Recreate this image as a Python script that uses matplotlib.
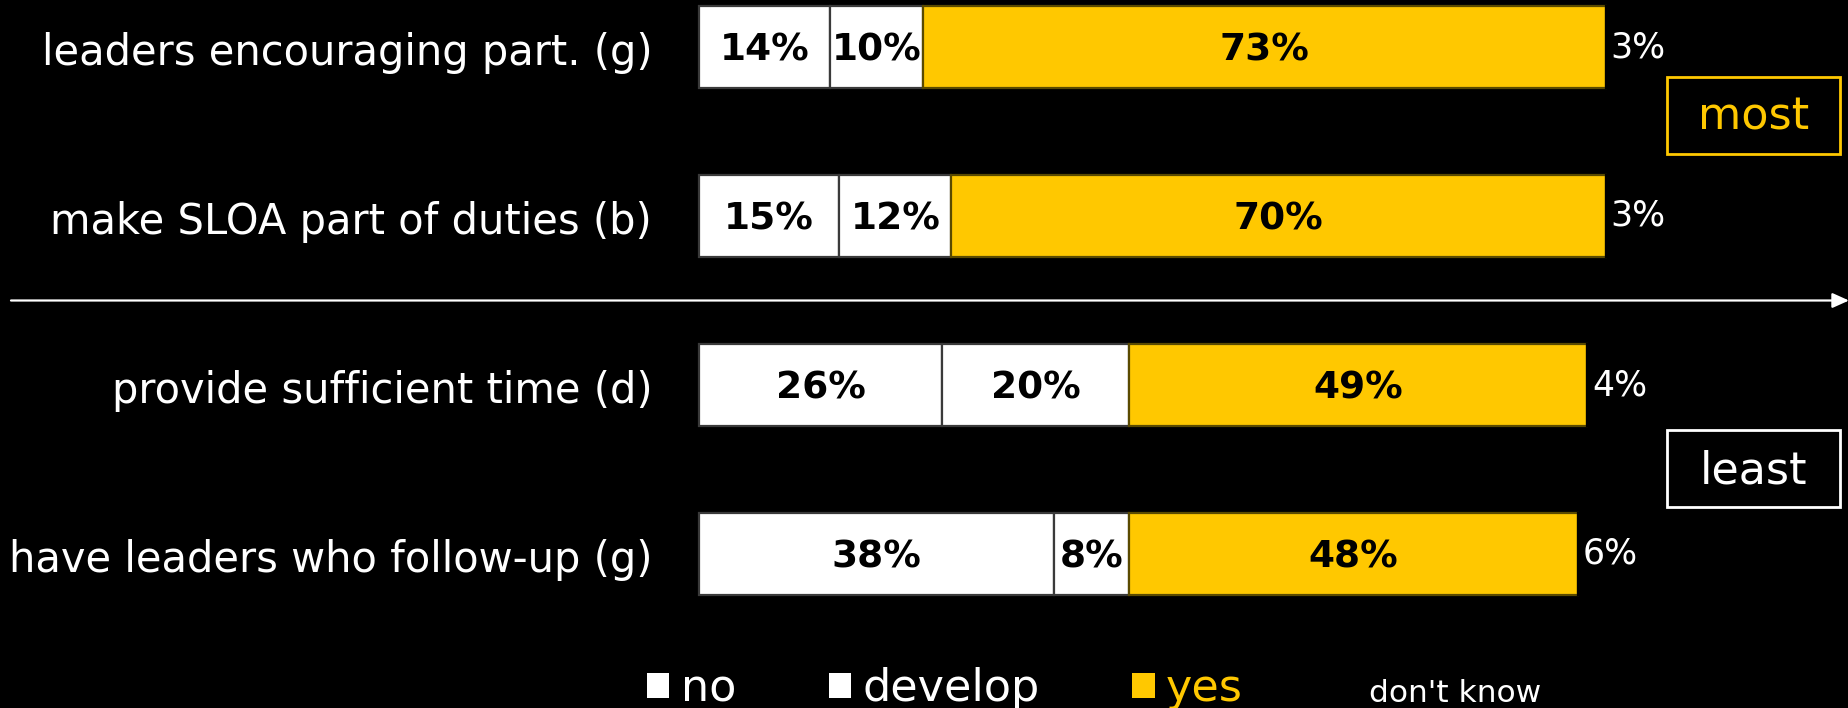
import matplotlib
matplotlib.use("Agg")
import matplotlib.pyplot as plt
from matplotlib.patches import Rectangle, Patch
import numpy as np

# Survey items, top to bottom
categories = [
    "leaders encouraging part. (g)",
    "make SLOA part of duties (b)",
    "provide sufficient time (d)",
    "have leaders who follow-up (g)",
]
series_names = ["no", "develop", "yes", "don't know"]
no_vals = [14, 15, 26, 38]
develop_vals = [10, 12, 20, 8]
yes_vals = [73, 70, 49, 48]
dont_know_vals = [3, 3, 4, 6]

GOLD = "#FFC800"
BG = "#000000"
FONT = "DejaVu Sans"

W, H, DPI = 1849, 708, 100
fig = plt.figure(figsize=(W / DPI, H / DPI), dpi=DPI, facecolor=BG)
ax = fig.add_axes([0, 0, 1, 1])
ax.set_facecolor(BG)

# scale: 0% at x=699px, 9.35 px per percent; rows 169 px apart, first row at 47 px
px_per_pct = 9.35
x0_px = 699
ax.set_xlim(-x0_px / px_per_pct, (W - x0_px) / px_per_pct)
row_px = 169
top_px = 47
ax.set_ylim((H - top_px) / row_px, -top_px / row_px)
ax.axis("off")

y = np.arange(len(categories))
bar_h = 0.49
segments = [no_vals, develop_vals, yes_vals, dont_know_vals]
colors = ["white", "white", GOLD, BG]
edges = ["#3a3a3a", "#3a3a3a", "#5a4a00", BG]

left = np.zeros(len(categories))
for si, (vals, col, ec) in enumerate(zip(segments, colors, edges)):
    vals = np.array(vals, dtype=float)
    ax.barh(y, vals, left=left, height=bar_h, color=col, edgecolor=ec,
            linewidth=1.6, label=series_names[si])
    for yi, (l, v) in enumerate(zip(left, vals)):
        if si < 3:
            ax.text(l + v / 2, yi + 0.02, f"{int(v)}%", ha="center",
                    va="center", fontsize=27, fontweight="bold",
                    color="black", family=FONT)
        else:
            # "don't know" segment is black, so its label sits just inside it
            ax.text(l + 0.5, yi, f"{int(v)}%", ha="left", va="center",
                    fontsize=25, color="white", family=FONT)
    left = left + vals

# category labels, right-aligned left of the bars
for yi, cat in enumerate(categories):
    ax.text(-5.0, yi + 0.035, cat, ha="right", va="center", fontsize=30,
            color="white", family=FONT)

# dividing arrow between the top and bottom pairs
ax.annotate("", xy=(1.0, 1.5), xytext=(11 / W, 1.5),
            xycoords=("figure fraction", "data"),
            textcoords=("figure fraction", "data"),
            arrowprops=dict(arrowstyle="-|>,head_length=1.0,head_width=0.45",
                            color="white", lw=1.6, shrinkA=0, shrinkB=0))

# "most" / "least" boxes
def tag(text, color, x_px, y_px, w_px=173, h_px=77):
    rect = Rectangle((x_px / W, 1 - (y_px + h_px) / H), w_px / W, h_px / H,
                     transform=fig.transFigure, fill=False, edgecolor=color,
                     linewidth=2)
    fig.patches.append(rect)
    fig.text((x_px + w_px / 2) / W, 1 - (y_px + h_px / 2 + 2) / H, text,
             ha="center", va="center", fontsize=32, color=color, family=FONT)

tag("most", GOLD, 1667, 77)
tag("least", "white", 1667, 430)

# legend
handles = [Patch(facecolor=c, edgecolor="none") for c in colors]
leg = fig.legend(handles, series_names, loc="center left",
                 bbox_to_anchor=(625 / W, 1 - 689 / H), ncol=4, frameon=False,
                 handlelength=0.5, handleheight=0.5,
                 handletextpad=0.25, columnspacing=2.09, borderpad=0,
                 prop={"family": FONT, "size": 32})
for t, c in zip(leg.get_texts(), ["white", "white", GOLD, "white"]):
    t.set_color(c)
leg.get_texts()[3].set_fontsize(22.5)

fig.savefig("out.png", dpi=DPI, facecolor=BG)
